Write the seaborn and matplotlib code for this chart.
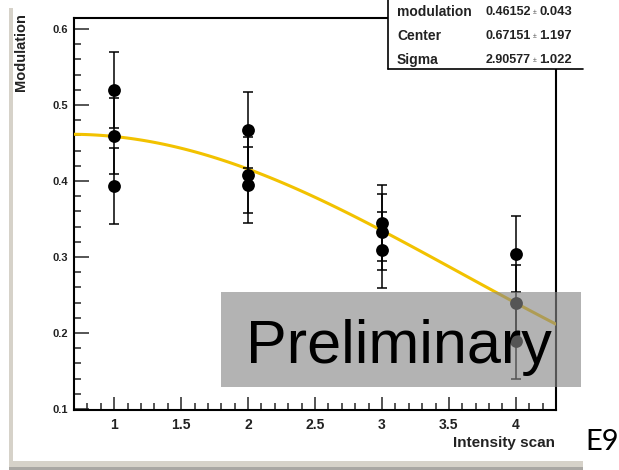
import numpy as np
import matplotlib
matplotlib.use("Agg")
import matplotlib.pyplot as plt
from matplotlib.patches import Rectangle
from matplotlib.lines import Line2D
from matplotlib.ticker import MultipleLocator, FuncFormatter
import seaborn as sns

# Measured modulation for each intensity setting (three runs per setting)
intensity = [1, 1, 1, 2, 2, 2, 3, 3, 3, 4, 4, 4]
modulation = [0.520, 0.459, 0.393, 0.467, 0.408, 0.395, 0.345, 0.333, 0.309, 0.304, 0.240, 0.190]
mod_err = [0.050, 0.050, 0.050, 0.050, 0.050, 0.050, 0.050, 0.050, 0.050, 0.050, 0.050, 0.050]

# Gaussian fit parameters
par_names = ["modulation", "Center", "Sigma"]
par_values = [0.46152, 0.67151, 2.90577]
par_errors = [0.043, 1.197, 1.022]

x_ticks = [1, 1.5, 2, 2.5, 3, 3.5, 4]
y_ticks = [0.1, 0.2, 0.3, 0.4, 0.5, 0.6]

sns.set_style("white")
plt.rcParams["font.family"] = ["Liberation Sans", "DejaVu Sans"]

W, H = 619, 470
fig = plt.figure(figsize=(W / 100, H / 100), dpi=100)
fig.patch.set_facecolor("white")


def fx(px):
    return px / W


def fy(py):
    return 1 - py / H


ax = fig.add_axes([fx(74), fy(410), fx(556) - fx(74), fy(18) - fy(410)])
ax.set_facecolor("white")

# fitted curve
amp, cen, sig = par_values
xf = np.linspace(0.7, 4.3, 120)
yf = amp * np.exp(-0.5 * ((xf - cen) / sig) ** 2)
sns.lineplot(x=xf, y=yf, ax=ax, color="#f2c200", lw=2.2, zorder=3)

# data with error bars
ax.errorbar(intensity, modulation, yerr=mod_err, fmt="none", ecolor="black",
            elinewidth=1.1, capsize=3.4, capthick=1.1, zorder=4)
sns.scatterplot(x=intensity, y=modulation, ax=ax, color="black", s=85,
                edgecolor="black", linewidth=0, zorder=5)

ax.set_xlim(0.7, 4.3)
ax.set_ylim(0.0987, 0.6145)
ax.set_xticks(x_ticks)
ax.set_yticks(y_ticks)
ax.xaxis.set_minor_locator(MultipleLocator(0.1))
ax.yaxis.set_minor_locator(MultipleLocator(0.02))
ax.xaxis.set_major_formatter(FuncFormatter(lambda v, p: f"{v:g}"))
ax.yaxis.set_major_formatter(FuncFormatter(lambda v, p: f"{v:g}"))
ax.set_xlabel("")
ax.set_ylabel("")

ax.tick_params(axis="x", which="major", direction="in", length=9.4, width=1.1,
               labelsize=10, pad=6, top=False, bottom=True)
ax.tick_params(axis="x", which="minor", direction="in", length=5, width=1.1,
               top=False, bottom=True)
ax.tick_params(axis="y", which="major", direction="in", length=10.8, width=1.1,
               labelsize=8, pad=4, left=True, right=False)
ax.tick_params(axis="y", which="minor", direction="in", length=5, width=1.1,
               left=True, right=False)
for lab in ax.get_xticklabels() + ax.get_yticklabels():
    lab.set_fontweight("bold")
    lab.set_color("#222222")
for s in ax.spines.values():
    s.set_linewidth(1.5)
    s.set_color("black")

# axis titles
fig.text(fx(21), fy(13), "Modulation", rotation=90, ha="center", va="top",
         fontsize=10.5, fontweight="bold", color="#222222")
fig.text(fx(555), fy(443), "Intensity scan", ha="right", va="center",
         fontsize=11, fontweight="bold", color="#222222")

# canvas frame
beige = "#d6d2c9"
fig.patches.append(Rectangle((fx(9), fy(461)), fx(13) - fx(9), fy(8) - fy(461),
                             transform=fig.transFigure, facecolor=beige,
                             edgecolor="none", zorder=1))
fig.patches.append(Rectangle((fx(9), fy(467)), fx(583) - fx(9), fy(461) - fy(467),
                             transform=fig.transFigure, facecolor=beige,
                             edgecolor="none", zorder=1))
fig.patches.append(Rectangle((fx(9), fy(470)), fx(583) - fx(9), fy(467) - fy(470),
                             transform=fig.transFigure, facecolor="#a9a7a3",
                             edgecolor="none", zorder=1))

# fit statistics box
fig.patches.append(Rectangle((fx(388), fy(69)), fx(583) - fx(388), fy(0) - fy(69),
                             transform=fig.transFigure, facecolor="white",
                             edgecolor="none", zorder=6))
fig.lines.append(Line2D([fx(388), fx(388)], [fy(0), fy(69)], transform=fig.transFigure,
                        color="black", lw=1.2, zorder=7))
fig.lines.append(Line2D([fx(388), fx(583)], [fy(69), fy(69)], transform=fig.transFigure,
                        color="black", lw=1.2, zorder=7))
row_y = [12, 36, 60]
for name, val, err, yy in zip(par_names, par_values, par_errors, row_y):
    fig.text(fx(397), fy(yy), name, ha="left", va="center", fontsize=10,
             fontweight="bold", color="#222222", zorder=8)
    fig.text(fx(486), fy(yy), f"{val:.5f}", ha="left", va="center", fontsize=9,
             fontweight="bold", color="#222222", zorder=8)
    fig.text(fx(534.5), fy(yy + 1), "\u00b1", ha="center", va="center", fontsize=5,
             color="#555555", zorder=8)
    fig.text(fx(539), fy(yy), f"{err:.3f}", ha="left", va="center", fontsize=9.4,
             fontweight="bold", color="#222222", zorder=8)

# preliminary banner
fig.patches.append(Rectangle((fx(221), fy(387)), fx(581) - fx(221), fy(292) - fy(387),
                             transform=fig.transFigure, facecolor=(0.53, 0.53, 0.53),
                             alpha=0.63, edgecolor="none", zorder=9))
fig.text(fx(399), fy(363), "Preliminary", ha="center", va="baseline", fontsize=44,
         color="black", zorder=10)

fig.text(fx(585), fy(450), "E9", ha="left", va="baseline", fontsize=21,
         family=["Lato", "DejaVu Sans"], color="black", zorder=10)

fig.savefig("out.png", dpi=100)
